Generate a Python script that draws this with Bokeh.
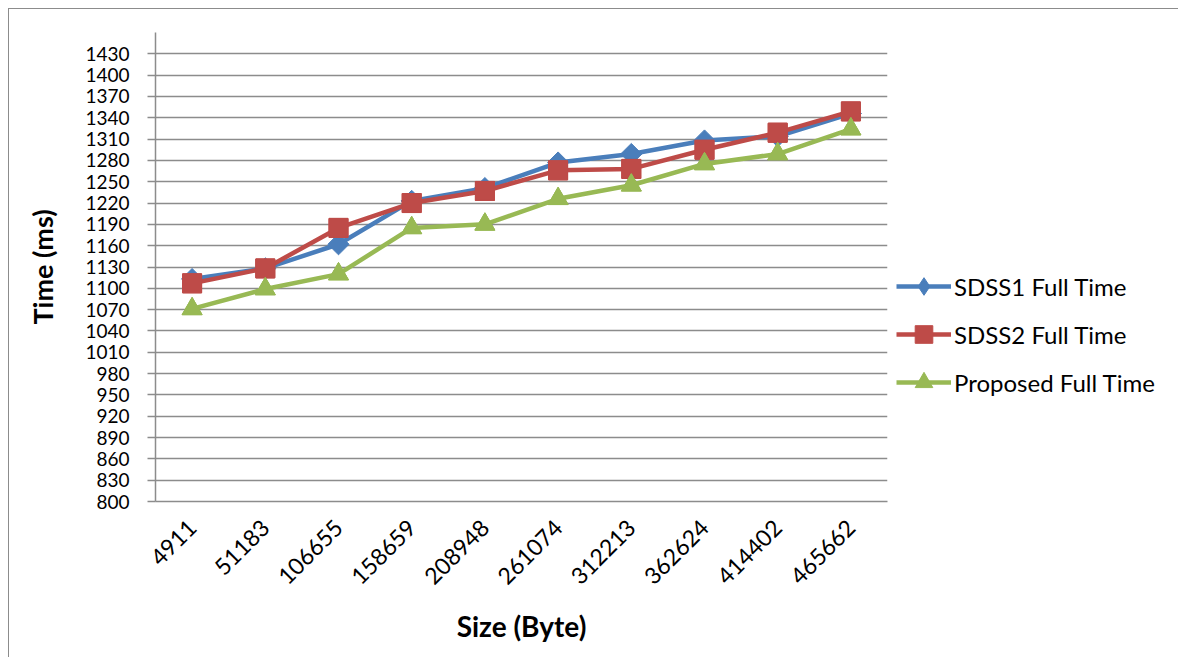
import math
from bokeh.plotting import figure
from bokeh.models import FactorRange, Range1d, FixedTicker, Legend, LegendItem
from bokeh.embed import file_html
from bokeh.resources import INLINE

sizes = ["4911", "51183", "106655", "158659", "208948", "261074", "312213", "362624", "414402", "465662"]
sdss1 = [1113, 1128, 1162, 1223, 1241, 1277, 1289, 1308, 1314, 1346]
sdss2 = [1107, 1128, 1185, 1220, 1237, 1266, 1268, 1295, 1319, 1349]
proposed = [1071, 1099, 1120, 1185, 1190, 1226, 1245, 1275, 1289, 1324]
y_ticks = list(range(800, 1431, 30))

FONT = "Lato"
GRID = "#8c8c8c"

p = figure(frame_width=732, frame_height=469, x_range=FactorRange(*sizes), y_range=Range1d(800, 1460),
           output_backend="svg", toolbar_location=None,
           min_border_left=146, min_border_top=23, min_border_right=290, min_border_bottom=156)
p.margin = (8, 0, 0, 8)
p.styles = {"border-left": "1px solid #8c8c8c", "border-top": "1px solid #8c8c8c"}
p.outline_line_color = None
p.background_fill_color = "white"
p.border_fill_color = "white"

p.xgrid.grid_line_color = None
p.ygrid.grid_line_color = GRID
p.ygrid.grid_line_width = 1.5
p.yaxis.ticker = FixedTicker(ticks=y_ticks)

for ax in (p.xaxis[0], p.yaxis[0]):
    ax.axis_line_color = GRID
    ax.axis_line_width = 1.5
    ax.major_tick_line_color = GRID
    ax.major_tick_line_width = 1.5
    ax.minor_tick_line_color = None
    ax.major_label_text_font = FONT
    ax.major_label_text_color = "black"
    ax.axis_label_text_font = FONT
    ax.axis_label_text_font_style = "bold"
    ax.axis_label_text_color = "black"

p.yaxis.major_tick_in = 0
p.yaxis.major_tick_out = 8
p.yaxis.major_label_text_font_size = "19px"
p.yaxis.major_label_standoff = 18
p.yaxis.axis_label = "Time (ms)"
p.yaxis.axis_label_text_font_size = "27px"
p.yaxis.axis_label_standoff = 23

p.xaxis.major_tick_in = 0
p.xaxis.major_tick_out = 0
p.xaxis.major_label_orientation = math.pi / 4
p.xaxis.major_label_text_font_size = "23px"
p.xaxis.major_label_standoff = 22
p.xaxis.axis_label = "Size (Byte)"
p.xaxis.axis_label_text_font_size = "28px"
p.xaxis.axis_label_standoff = 14

series = [
    ("SDSS1 Full Time", sdss1, "#4a7ebb", "square", 15, math.pi / 4, "diamond"),
    ("SDSS2 Full Time", sdss2, "#be4b48", "square", 19, 0.0, "square"),
    ("Proposed Full Time", proposed, "#98b954", "triangle", 20, 0.0, "triangle"),
]
items = []
for name, vals, color, marker, size, ang, legend_marker in series:
    l = p.line(sizes, vals, line_color=color, line_width=4.5)
    # marker used for the legend swatch (hidden under the plotted marker)
    lm = p.scatter(sizes, vals, marker=legend_marker, size=size,
                   fill_color=color, line_color=color)
    s = p.scatter(sizes, vals, marker=marker, size=size, angle=ang,
                  fill_color=color, line_color=color)
    items.append(LegendItem(label=name, renderers=[l, lm]))

legend = Legend(items=items, location=(9, 97), orientation="vertical",
                glyph_width=55, glyph_height=44, label_height=20, spacing=4,
                label_standoff=3, padding=0, margin=0,
                label_text_font=FONT, label_text_font_size="24px", label_text_color="black",
                border_line_color=None, background_fill_alpha=0)
p.add_layout(legend, "right")

open("out.html", "w").write(file_html(p, INLINE))
